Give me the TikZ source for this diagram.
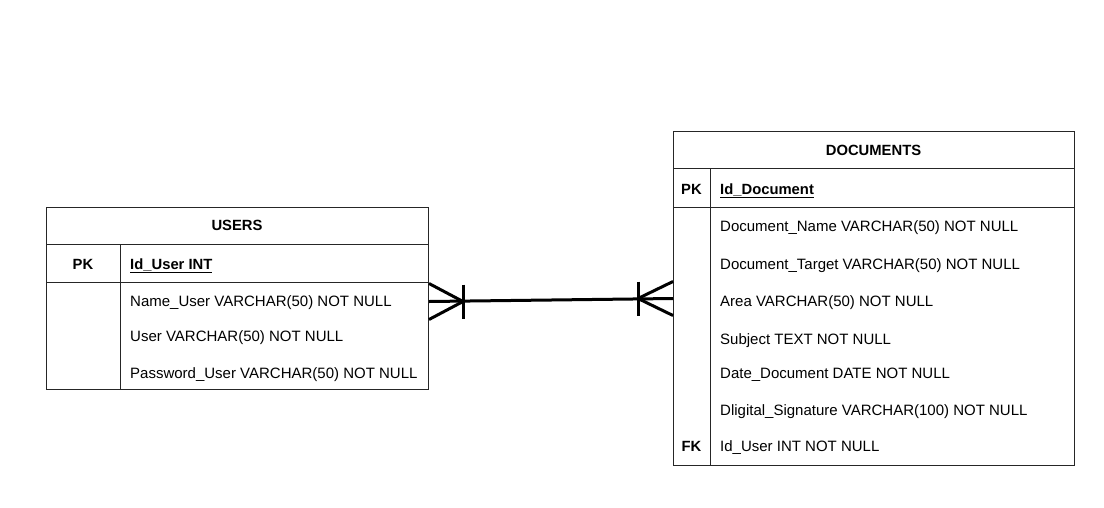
\documentclass[tikz,border=0pt]{standalone}
\usepackage{fontspec}
\setmainfont{Liberation Sans}
\usetikzlibrary{calc}
\tikzset{
  tbl/.style={draw=black!85, line width=1pt},
  field/.style={anchor=base west, inner sep=0pt, font=\fontsize{15}{18}\selectfont},
  keyname/.style={anchor=base, inner sep=0pt, font=\fontsize{14.8}{18}\selectfont\bfseries},
  relation/.style={draw=black, line width=3pt},
}

\begin{document}
\begin{tikzpicture}[x=1pt, y=-1pt]
    \useasboundingbox (0,0) rectangle (1104,507);
    % tables
    \node[tbl, anchor=north west, minimum width=382pt, minimum height=182pt, inner sep=0pt] (users) at (46,207) {};
    \node[tbl, anchor=north west, minimum width=401pt, minimum height=334pt, inner sep=0pt] (docs) at (673,131) {};
    \draw[tbl] (46,244) -- (428,244);
    \draw[tbl] (46,282) -- (428,282);
    \draw[tbl] (120,244) -- (120,389);
    \draw[tbl] (673,168) -- (1074,168);
    \draw[tbl] (673,207) -- (1074,207);
    \draw[tbl] (710,168) -- (710,465);
    % users fields
    \node[keyname] (usersTitle) at (237,230.5) {USERS};
    \node[keyname] (usersPK) at (83,269) {PK};
    \node[field, font=\fontsize{14.8}{18}\selectfont\bfseries] (usersId) at (130,269) {\underline{Id\_User INT}};
    \node[field] (usersName) at (130,306.5) {Name\_User VARCHAR(50) NOT NULL};
    \node[field] (usersUser) at (130,341.5) {User VARCHAR(50) NOT NULL};
    \node[field] (usersPass) at (130,378) {Password\_User VARCHAR(50) NOT NULL};
    % documents fields
    \node[keyname] (docsTitle) at (873.5,155.5) {DOCUMENTS};
    \node[keyname] (docsPK) at (691.5,194) {PK};
    \node[field, font=\fontsize{14.8}{18}\selectfont\bfseries] (docsId) at (720,194) {\underline{Id\_Document}};
    \node[field] (docsName) at (720,231) {Document\_Name VARCHAR(50) NOT NULL};
    \node[field] (docsTarget) at (720,269) {Document\_Target VARCHAR(50) NOT NULL};
    \node[field] (docsArea) at (720,306) {Area VARCHAR(50) NOT NULL};
    \node[field] (docsSubject) at (720,344) {Subject TEXT NOT NULL};
    \node[field] (docsDate) at (720,378.5) {Date\_Document DATE NOT NULL};
    \node[field] (docsSign) at (720,415) {Dligital\_Signature VARCHAR(100) NOT NULL};
    \node[keyname] (docsFK) at (691.5,451.5) {FK};
    \node[field] (docsUser) at (720,451.5) {Id\_User INT NOT NULL};
    % relation ends
    \coordinate (usersEnd) at ($(users.east)+(0,3)$);
    \coordinate (docsEnd) at (docs.west);
    \coordinate (usersFork) at ($(usersEnd)+(34,0)$);
    \coordinate (docsFork) at ($(docsEnd)+(-35,0)$);
    % diagram
    \draw[relation] (usersEnd) -- (docsEnd);
    \draw[relation] ($(usersEnd)+(0,-18)$) -- (usersFork);
    \draw[relation] ($(usersEnd)+(0,18)$) -- (usersFork);
    \draw[relation] ($(usersFork)+(0,-17)$) -- ($(usersFork)+(0,17)$);
    \draw[relation] ($(docsEnd)+(0,-17)$) -- (docsFork);
    \draw[relation] ($(docsEnd)+(0,17)$) -- (docsFork);
    \draw[relation] ($(docsFork)+(0,-17)$) -- ($(docsFork)+(0,17)$);
\end{tikzpicture}
\end{document}
